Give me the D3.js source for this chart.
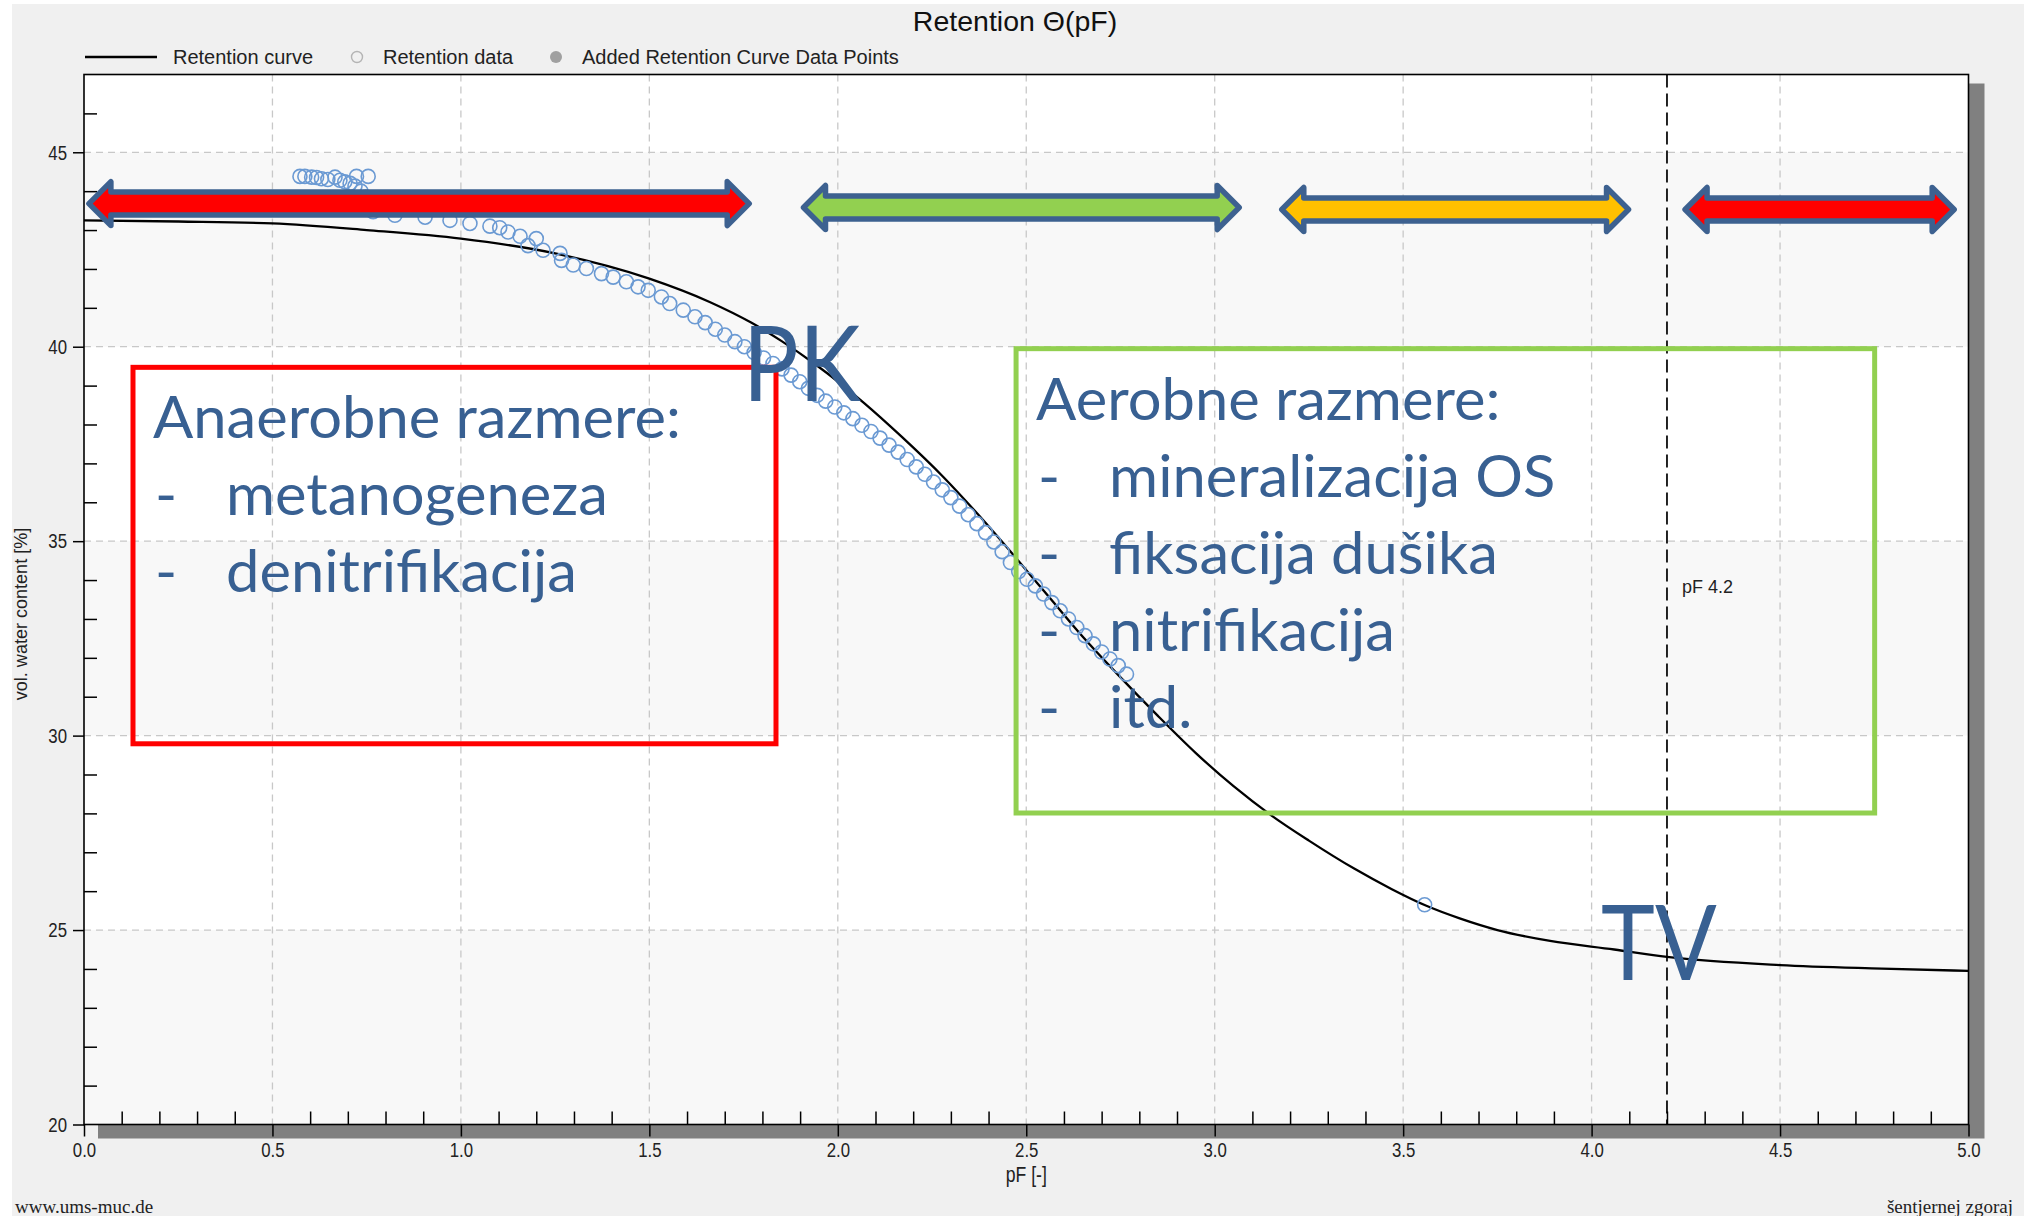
<!DOCTYPE html>
<html><head><meta charset="utf-8">
<script src="https://cdn.jsdelivr.net/npm/d3@7"></script>
<style>
html,body{margin:0;padding:0;background:#fff;}
svg{display:block;}
</style></head>
<body>
<svg id="chart" width="2024" height="1216"></svg>
<script>
// ---------------- data ----------------
const curvePF    = [0, 0.25, 0.5, 0.75, 1.0, 1.25, 1.5, 1.66, 1.77, 1.85, 1.94, 2.07, 2.17, 2.28, 2.37, 2.47, 2.56, 2.65, 2.74, 2.85, 2.95, 3.05, 3.15, 3.25, 3.37, 3.47, 3.56, 3.65, 3.75, 3.89, 4.06, 4.2, 4.5, 4.77, 5.0];
const curveTheta = [43.25, 43.22, 43.17, 43.0, 42.78, 42.4, 41.75, 41.15, 40.62, 40.15, 39.55, 38.55, 37.68, 36.65, 35.71, 34.6, 33.57, 32.54, 31.6, 30.5, 29.55, 28.7, 27.95, 27.3, 26.58, 26.05, 25.63, 25.3, 25.0, 24.72, 24.5, 24.31, 24.1, 24.01, 23.95];

const dataPF = [0.573, 0.586, 0.604, 0.617, 0.630, 0.647, 0.666, 0.679, 0.692, 0.706, 0.719, 0.723, 0.754,
  0.735, 0.748, 0.758,
  0.767, 0.825, 0.905, 0.971, 1.024, 1.077, 1.103, 1.125, 1.157, 1.178, 1.200, 1.218, 1.263, 1.267, 1.298, 1.333, 1.373, 1.404, 1.439, 1.470, 1.497, 1.532, 1.554, 1.590, 1.621,
  1.648, 1.675, 1.700, 1.727, 1.752, 1.778, 1.803, 1.828, 1.852, 1.876, 1.899, 1.922, 1.945, 1.968, 1.992, 2.016, 2.040, 2.064, 2.088, 2.112, 2.136, 2.160, 2.184, 2.208, 2.231, 2.254, 2.277, 2.300, 2.323, 2.346, 2.369, 2.392, 2.414, 2.436, 2.458, 2.480, 2.502, 2.524, 2.546, 2.568, 2.590, 2.612, 2.634, 2.656, 2.678, 2.700, 2.722, 2.744, 2.766,
  3.557];
const dataTheta = [44.38, 44.38, 44.36, 44.35, 44.32, 44.30, 44.36, 44.28, 44.24, 44.20, 44.13, 44.38, 44.38,
  44.0, 43.85, 43.7,
  43.47, 43.38, 43.33, 43.25, 43.17, 43.10, 43.06, 42.95, 42.84, 42.60, 42.78, 42.48, 42.40, 42.22, 42.10, 42.01, 41.88, 41.79, 41.67, 41.54, 41.45, 41.28, 41.11, 40.94, 40.77,
  40.62, 40.45, 40.30, 40.13, 40.00, 39.85, 39.71, 39.57, 39.43, 39.27, 39.10, 38.93, 38.75, 38.60, 38.45, 38.30, 38.15, 37.98, 37.82, 37.65, 37.47, 37.29, 37.10, 36.91, 36.72, 36.52, 36.32, 36.12, 35.90, 35.68, 35.45, 35.22, 34.98, 34.73, 34.45, 34.22, 34.02, 33.85, 33.64, 33.42, 33.21, 33.00, 32.78, 32.57, 32.36, 32.15, 31.97, 31.80, 31.58,
  25.65];

const xTickValues = [0, 0.5, 1, 1.5, 2, 2.5, 3, 3.5, 4, 4.5, 5];
const xTickLabels = ["0.0","0.5","1.0","1.5","2.0","2.5","3.0","3.5","4.0","4.5","5.0"];
const yTickValues = [20, 25, 30, 35, 40, 45];
const yTickLabels = ["20","25","30","35","40","45"];

const markerPF = 4.2;
const markerLabel = "pF 4.2";

// zone arrows (pF range, theta level, fill)
const zoneStart = [0.013, 1.909, 3.178, 4.248];
const zoneEnd   = [1.765, 3.065, 4.098, 4.962];
const zoneTheta = [43.68, 43.58, 43.53, 43.53];
const zoneColor = ["#ff0000", "#92d050", "#ffc000", "#ff0000"];

// annotation boxes
const redBoxPF = [0.13, 1.836], redBoxTheta = [39.47, 29.79];
const greenBoxPF = [2.473, 4.751], greenBoxTheta = [39.95, 28.01];
const redLines = ["Anaerobne razmere:", "metanogeneza", "denitrifikacija"];
const greenLines = ["Aerobne razmere:", "mineralizacija OS", "fiksacija dušika", "nitrifikacija", "itd."];
const pkLabel = {text: "PK", pF: 1.748, theta: 38.6};
const tvLabel = {text: "TV", pF: 4.025, theta: 23.72};

// ---------------- drawing ----------------
const svg = d3.select("#chart");
const L = 84, R = 1968.5, T = 74.5, B = 1124.5;
const x = d3.scaleLinear().domain([0, 5]).range([L, R]);
const y = d3.scaleLinear().domain([20, 47]).range([B, T]);

const sans = "'Liberation Sans',Arial,sans-serif";
const serif = "'Liberation Serif','Times New Roman',serif";
const annoFont = "Lato,'Open Sans',sans-serif";
const annoBlue = "#386092";
const cond = 0.8; // condensed look of the axis font

// outer background
svg.append("rect").attr("x", 12).attr("y", 4).attr("width", 2012).attr("height", 1212).attr("fill", "#f0f0f0");

// title
svg.append("text").attr("x", 1015).attr("y", 31).attr("text-anchor", "middle")
  .attr("font-family", sans).attr("font-size", 28.5).attr("fill", "#111").text("Retention Θ(pF)");

// legend
const lg = svg.append("g");
lg.append("line").attr("x1", 85).attr("x2", 157).attr("y1", 57).attr("y2", 57).attr("stroke", "#000").attr("stroke-width", 2.5);
lg.append("text").attr("x", 173).attr("y", 64).attr("font-family", sans).attr("font-size", 20).attr("fill", "#222").text("Retention curve");
lg.append("circle").attr("cx", 357).attr("cy", 57).attr("r", 5.5).attr("fill", "none").attr("stroke", "#b4b4b4").attr("stroke-width", 1.4);
lg.append("text").attr("x", 383).attr("y", 64).attr("font-family", sans).attr("font-size", 20).attr("fill", "#222").text("Retention data");
lg.append("circle").attr("cx", 556).attr("cy", 57).attr("r", 6).attr("fill", "#a0a0a0");
lg.append("text").attr("x", 582).attr("y", 64).attr("font-family", sans).attr("font-size", 20).attr("fill", "#222").text("Added Retention Curve Data Points");

// shadow
svg.append("rect").attr("x", L + 14).attr("y", T + 9).attr("width", R - L + 2).attr("height", B - T + 5).attr("fill", "#808080");
// plot background
svg.append("rect").attr("x", L).attr("y", T).attr("width", R - L).attr("height", B - T).attr("fill", "#ffffff");
// alternating bands
const bands = yTickValues.filter((d, i) => i % 2 === 0);
svg.append("g").selectAll("rect").data(bands).join("rect")
  .attr("x", L).attr("width", R - L)
  .attr("y", d => y(d + 5)).attr("height", d => y(d) - y(d + 5))
  .attr("fill", "#f8f8f8");

// grid
const grid = svg.append("g").attr("stroke", "#c8c8c8").attr("stroke-width", 1.3).attr("stroke-dasharray", "7,5");
grid.selectAll("line.v").data(xTickValues.slice(1, -1)).join("line").attr("class", "v")
  .attr("x1", d => x(d)).attr("x2", d => x(d)).attr("y1", T).attr("y2", B);
grid.selectAll("line.h").data(yTickValues.slice(1)).join("line").attr("class", "h")
  .attr("x1", L).attr("x2", R).attr("y1", d => y(d)).attr("y2", d => y(d));

// pF 4.2 marker
svg.append("line").attr("x1", x(markerPF)).attr("x2", x(markerPF)).attr("y1", T).attr("y2", B)
  .attr("stroke", "#1a1a1a").attr("stroke-width", 1.9).attr("stroke-dasharray", "13,6");
svg.append("text").attr("x", x(markerPF) + 15).attr("y", 593).attr("font-family", sans).attr("font-size", 18).attr("fill", "#222").text(markerLabel);

// curve
const curveData = curvePF.map((p, i) => [p, curveTheta[i]]);
svg.append("path").datum(curveData)
  .attr("d", d3.line().x(d => x(d[0])).y(d => y(d[1])).curve(d3.curveMonotoneX))
  .attr("fill", "none").attr("stroke", "#000").attr("stroke-width", 2.3);

// data circles
svg.append("g").selectAll("circle").data(dataPF.map((p, i) => [p, dataTheta[i]])).join("circle")
  .attr("cx", d => x(d[0])).attr("cy", d => y(d[1])).attr("r", 7)
  .attr("fill", "none").attr("stroke", "#6b9ad3").attr("stroke-width", 1.6);

// axes
const minorX = d3.range(0, 51).map(i => i / 10).filter(v => Math.round(v * 10) % 5 !== 0);
const minorY = d3.range(21, 47).filter(v => v % 5 !== 0);

const gxMinor = svg.append("g").attr("transform", `translate(0,${B})`)
  .call(d3.axisBottom(x).tickValues(minorX).tickSize(-13).tickSizeOuter(0).tickFormat(""));
const gx = svg.append("g").attr("transform", `translate(0,${B})`)
  .call(d3.axisBottom(x).tickValues(xTickValues).tickFormat((d, i) => xTickLabels[i]).tickSize(12).tickSizeOuter(0).tickPadding(6));
const gyMinor = svg.append("g").attr("transform", `translate(${L},0)`)
  .call(d3.axisLeft(y).tickValues(minorY).tickSize(-13).tickSizeOuter(0).tickFormat(""));
const gy = svg.append("g").attr("transform", `translate(${L},0)`)
  .call(d3.axisLeft(y).tickValues(yTickValues).tickFormat((d, i) => yTickLabels[i]).tickSize(11).tickSizeOuter(0).tickPadding(6));
[gxMinor, gx, gyMinor, gy].forEach(g => {
  g.select(".domain").remove();
  g.selectAll(".tick line").attr("stroke", "#000").attr("stroke-width", 1.5);
  g.selectAll("text").attr("font-family", sans).attr("font-size", 21).attr("fill", "#222");
});
gx.selectAll(".tick text").attr("transform", `scale(${cond},1)`);
gy.selectAll(".tick text").attr("x", -17 / cond).attr("transform", `scale(${cond},1)`);

// frame
svg.append("rect").attr("x", L).attr("y", T).attr("width", R - L).attr("height", B - T)
  .attr("fill", "none").attr("stroke", "#000").attr("stroke-width", 1.6);

// axis titles
svg.append("text").attr("transform", `translate(${(L + R) / 2},1182) scale(${cond},1)`).attr("text-anchor", "middle")
  .attr("font-family", sans).attr("font-size", 22).attr("fill", "#222").text("pF [-]");
svg.append("text").attr("transform", `translate(27,614) rotate(-90) scale(0.95,1)`).attr("text-anchor", "middle")
  .attr("font-family", sans).attr("font-size", 19).attr("fill", "#222").text("vol. water content [%]");

// footer
svg.append("text").attr("x", 15).attr("y", 1213).attr("font-family", serif).attr("font-size", 19).attr("fill", "#222").text("www.ums-muc.de");
svg.append("text").attr("x", 2013).attr("y", 1213).attr("text-anchor", "end").attr("font-family", serif).attr("font-size", 19).attr("fill", "#222").text("šentjernej zgoraj");

// ---------------- annotations ----------------
const hh = 22, sh = 11.5, hl = 22;
function arrowPath(x0, x1, cy) {
  return `M${x0},${cy} L${x0 + hl},${cy - hh} L${x0 + hl},${cy - sh} L${x1 - hl},${cy - sh} L${x1 - hl},${cy - hh} L${x1},${cy} ` +
         `L${x1 - hl},${cy + hh} L${x1 - hl},${cy + sh} L${x0 + hl},${cy + sh} L${x0 + hl},${cy + hh} Z`;
}
svg.append("g").selectAll("path").data(zoneStart.map((s, i) => ({s, e: zoneEnd[i], t: zoneTheta[i], c: zoneColor[i]}))).join("path")
  .attr("d", d => arrowPath(x(d.s), x(d.e), y(d.t)))
  .attr("fill", d => d.c).attr("stroke", "#3d6190").attr("stroke-width", 5.5).attr("stroke-linejoin", "round");

function box(pf, th, color) {
  svg.append("rect").attr("x", x(pf[0])).attr("y", y(th[0]))
    .attr("width", x(pf[1]) - x(pf[0])).attr("height", y(th[1]) - y(th[0]))
    .attr("fill", "none").attr("stroke", color).attr("stroke-width", 5);
}
box(redBoxPF, redBoxTheta, "#ff0000");
box(greenBoxPF, greenBoxTheta, "#92d050");

const annoSize = 58.5;
const probe = svg.append("text").attr("font-family", annoFont).attr("font-size", annoSize).text(redLines[0]);
const sx = 528 / probe.node().getComputedTextLength();
probe.remove();

function addText(tx, ty, str, size, s) {
  svg.append("text").attr("transform", `translate(${tx},${ty}) scale(${s},1)`)
    .attr("font-family", annoFont).attr("font-size", size).attr("fill", annoBlue).text(str);
}
function boxText(pf, th, lines) {
  const bx = x(pf[0]), by = y(th[0]);
  lines.forEach((s, i) => {
    const ty = by + 71 + i * 77;
    if (i === 0) addText(bx + 20, ty, s, annoSize, sx);
    else { addText(bx + 22, ty, "-", annoSize, sx); addText(bx + 93, ty, s, annoSize, sx); }
  });
}
boxText(redBoxPF, redBoxTheta, redLines);
boxText(greenBoxPF, greenBoxTheta, greenLines);

addText(x(pkLabel.pF), y(pkLabel.theta), pkLabel.text, 104, sx * 0.88);
addText(x(tvLabel.pF), y(tvLabel.theta), tvLabel.text, 104, sx * 0.86);
</script>
</body></html>
